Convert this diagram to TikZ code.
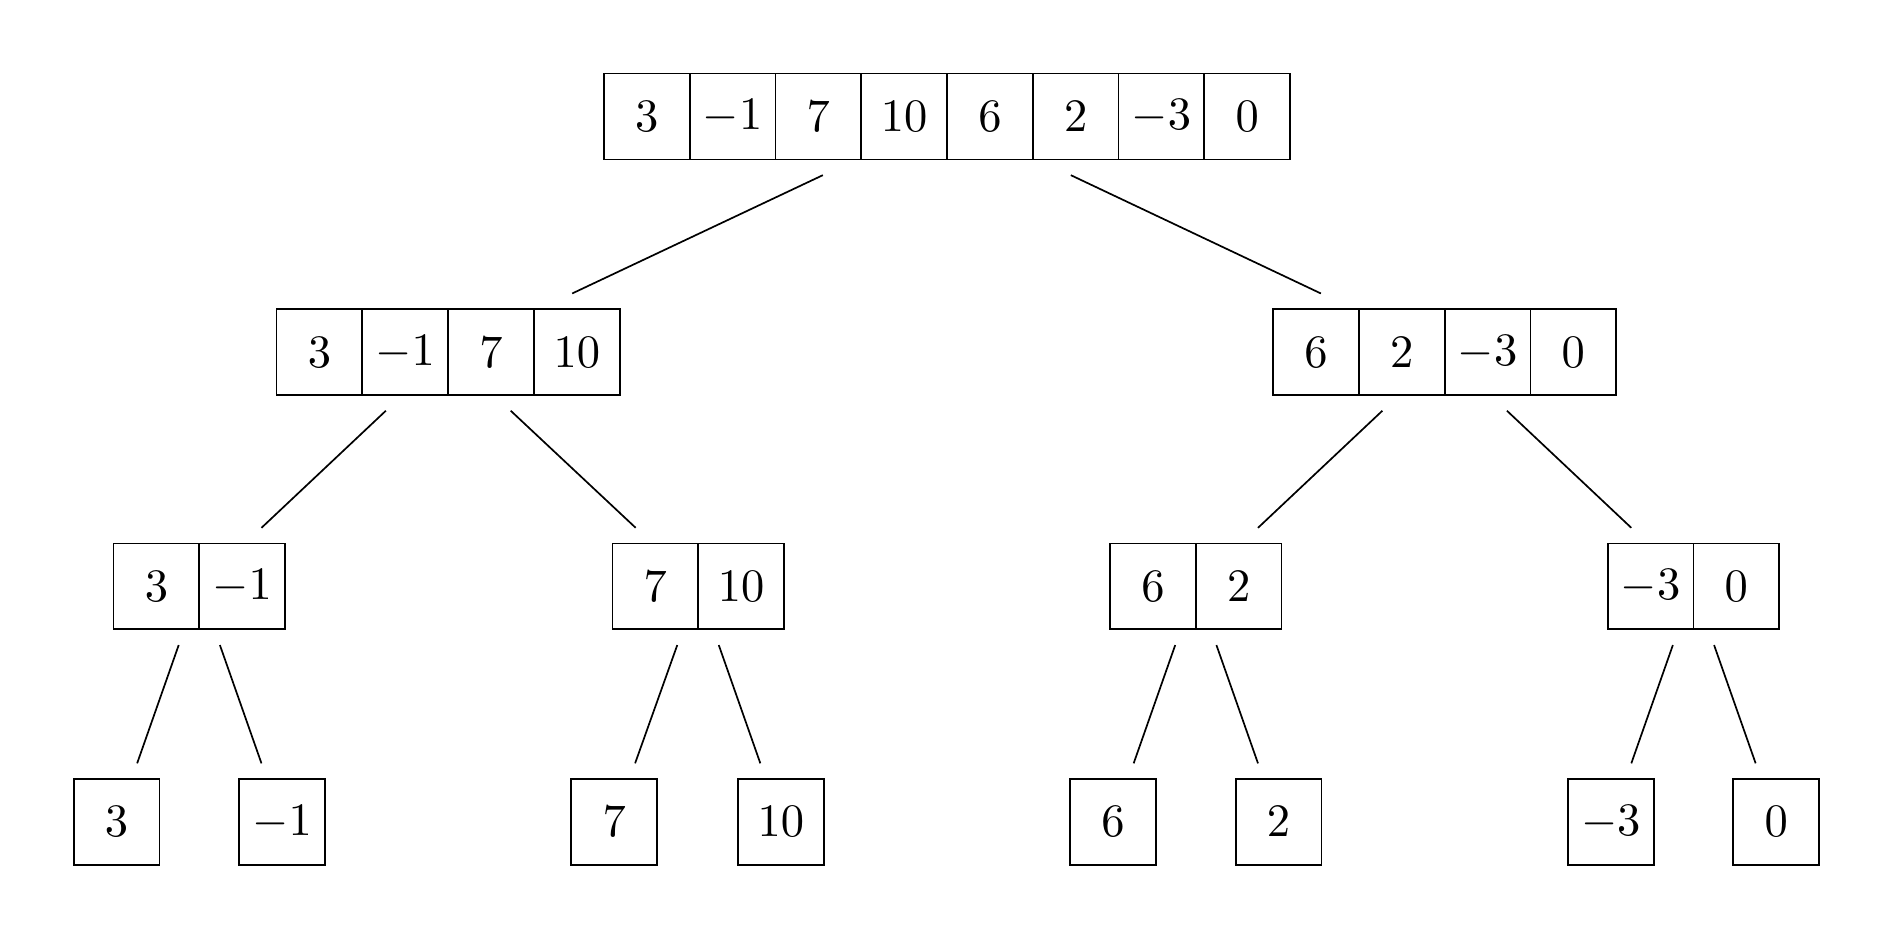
\documentclass[tikz,border=0pt]{standalone}
\begin{document}
\begin{tikzpicture}[x=0.01cm,y=-0.01cm,
  cell/.style={draw, line width=0.4pt, minimum width=0.71cm, minimum height=0.71cm, inner sep=0pt, font=\fontsize{10.6}{12}\selectfont},
  arr/.style={draw=none, minimum height=0.71cm, inner sep=0pt, outer sep=0.13cm},
  link/.style={line width=0.4pt}]
\useasboundingbox (0,0) rectangle (1568,776.5);
% root
\node[arr, minimum width=5.68cm] (r) at (784,96.5) {};
\foreach \v [count=\i from 0] in {3,-1,7,10,6,2,-3,0}
  \node[cell] (r\i) at (535.5+71*\i,96.5) {$\v$};
% level 1
\node[arr, minimum width=2.84cm] (a) at (371,291.5) {};
\foreach \v [count=\i from 0] in {3,-1,7,10}
  \node[cell] (a\i) at (264.5+71*\i,291.5) {$\v$};
\node[arr, minimum width=2.84cm] (b) at (1196,291.5) {};
\foreach \v [count=\i from 0] in {6,2,-3,0}
  \node[cell] (b\i) at (1089.5+71*\i,291.5) {$\v$};
% level 2
\node[arr, minimum width=1.42cm] (c) at (165,485.5) {};
\node[cell] (c0) at (129.5,485.5) {$3$};
\node[cell] (c1) at (200.5,485.5) {$-1$};
\node[arr, minimum width=1.42cm] (d) at (578,485.5) {};
\node[cell] (d0) at (542.5,485.5) {$7$};
\node[cell] (d1) at (613.5,485.5) {$10$};
\node[arr, minimum width=1.42cm] (e) at (990,485.5) {};
\node[cell] (e0) at (954.5,485.5) {$6$};
\node[cell] (e1) at (1025.5,485.5) {$2$};
\node[arr, minimum width=1.42cm] (f) at (1402,485.5) {};
\node[cell] (f0) at (1366.5,485.5) {$-3$};
\node[cell] (f1) at (1437.5,485.5) {$0$};
% leaves
\node[cell, outer sep=0.13cm] (l1) at (96.5,680.5) {$3$};
\node[cell, outer sep=0.13cm] (l2) at (233.5,680.5) {$-1$};
\node[cell, outer sep=0.13cm] (l3) at (508.5,680.5) {$7$};
\node[cell, outer sep=0.13cm] (l4) at (646.5,680.5) {$10$};
\node[cell, outer sep=0.13cm] (l5) at (921.5,680.5) {$6$};
\node[cell, outer sep=0.13cm] (l6) at (1058.5,680.5) {$2$};
\node[cell, outer sep=0.13cm] (l7) at (1333.5,680.5) {$-3$};
\node[cell, outer sep=0.13cm] (l8) at (1470.5,680.5) {$0$};
% connectors
\draw[link] (r) -- (a);
\draw[link] (r) -- (b);
\draw[link] (a) -- (c);
\draw[link] (a) -- (d);
\draw[link] (b) -- (e);
\draw[link] (b) -- (f);
\draw[link] (c) -- (l1);
\draw[link] (c) -- (l2);
\draw[link] (d) -- (l3);
\draw[link] (d) -- (l4);
\draw[link] (e) -- (l5);
\draw[link] (e) -- (l6);
\draw[link] (f) -- (l7);
\draw[link] (f) -- (l8);
\end{tikzpicture}
\end{document}
